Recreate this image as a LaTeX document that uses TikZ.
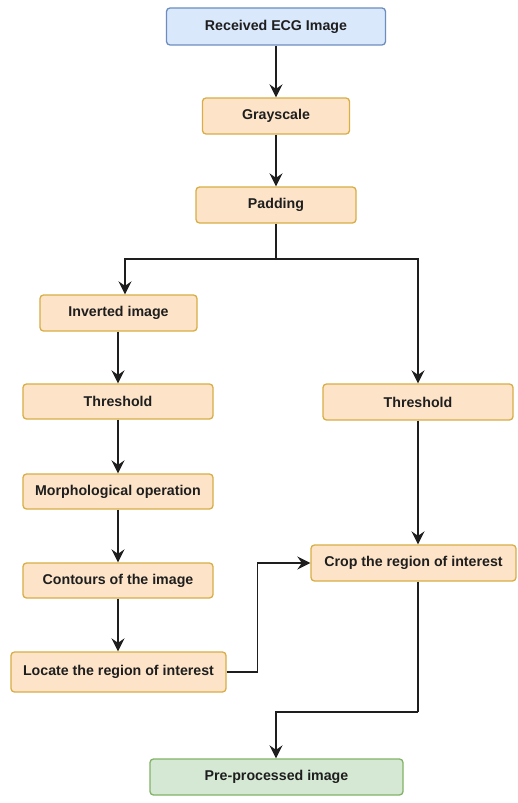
\documentclass[tikz,border=0pt]{standalone}
\usepackage{fontspec}
\setmainfont{Liberation Sans}
\usetikzlibrary{arrows.meta}

\definecolor{blueFill}{HTML}{DAE8FC}
\definecolor{blueLine}{HTML}{6C8EBF}
\definecolor{peachFill}{HTML}{FDE4C9}
\definecolor{peachLine}{HTML}{D8AE45}
\definecolor{greenFill}{HTML}{D5E8D4}
\definecolor{greenLine}{HTML}{82B366}
\definecolor{inkDark}{HTML}{1E1E1E}

\tikzset{
  stage/.style={draw=peachLine, fill=peachFill, line width=1.3bp, rounded corners=3.5bp,
    inner sep=0pt, text=inkDark, font=\fontsize{14.2bp}{16bp}\selectfont\bfseries},
  startbox/.style={stage, draw=blueLine, fill=blueFill},
  endbox/.style={stage, draw=greenLine, fill=greenFill},
  link/.style={draw=inkDark, line width=1.6bp},
  arr/.style={link, -{Stealth[length=13bp, width=13bp, inset=4.5bp]}}
}

\begin{document}
\begin{tikzpicture}[x=1bp, y=-1bp]
  \useasboundingbox[fill=white] (0,0) rectangle (518,803);

  % process stages
  \node[startbox, minimum width=219bp, minimum height=37bp] (recv)  at (276,26.5)   {Received ECG Image};
  \node[stage, minimum width=147bp, minimum height=36bp]    (gray)  at (276,116)    {Grayscale};
  \node[stage, minimum width=160bp, minimum height=36bp]    (pad)   at (276,205)    {Padding};
  \node[stage, minimum width=157bp, minimum height=36bp]    (inv)   at (118.5,313)  {Inverted image};
  \node[stage, minimum width=190bp, minimum height=35bp]    (thl)   at (118,401.5)  {Threshold};
  \node[stage, minimum width=190bp, minimum height=36bp]    (thr)   at (418,402)    {Threshold};
  \node[stage, minimum width=190bp, minimum height=35bp]    (morph) at (118,491.5)  {Morphological operation};
  \node[stage, minimum width=190bp, minimum height=35bp]    (cont)  at (118,580.5)  {Contours of the image};
  \node[stage, minimum width=205bp, minimum height=36bp]    (crop)  at (413.5,563)  {Crop the region of interest};
  \node[stage, minimum width=215bp, minimum height=40bp]    (loc)   at (118.5,672)  {Locate the region of interest};
  \node[endbox, minimum width=253bp, minimum height=36bp]   (pre)   at (276.5,777)  {Pre-processed image};

  % branching point below padding and merge point above the output
  \coordinate (split) at (276,259);
  \coordinate (merge) at (418,712);

  % main trunk
  \draw[arr] (recv) -- (gray);
  \draw[arr] (gray) -- (pad);
  \draw[link] (pad) -- (split);
  \draw[arr] (split) -| ([xshift=6.5bp]inv.north);
  \draw[arr] (split) -| (thr.north);

  % left branch
  \draw[arr] (thl.north |- inv.south) -- (thl.north);
  \draw[arr] (thl) -- (morph);
  \draw[arr] (morph) -- (cont);
  \draw[arr] (cont.south) -- (cont.south |- loc.north);
  \draw[arr] (loc.east) -- ++(31,0) |- (crop.west);

  % right branch
  \draw[arr] (thr.south) -- (thr.south |- crop.north);
  \draw[link] (thr.south |- crop.south) -- (merge);
  \draw[arr] (merge) -| (recv.south |- pre.north);
\end{tikzpicture}
\end{document}
